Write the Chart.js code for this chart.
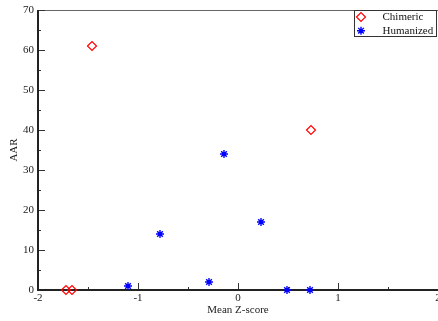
<!DOCTYPE html>
<html>
<head>
<meta charset="utf-8">
<script src="https://cdn.jsdelivr.net/npm/chart.js@4.4.1/dist/chart.umd.min.js"></script>
<style>
  html, body { margin: 0; padding: 0; background: #fff; overflow: hidden; }
  #wrap { width: 438px; height: 321px; position: relative; }
</style>
</head>
<body>
<div id="wrap"><canvas id="c"></canvas></div>
<script>
// Mean Z-score vs AAR for chimeric and humanized antibodies
const chimericZ = [-1.72, -1.66, -1.46, 0.73];
const chimericAAR = [0, 0, 61, 40];
const humanizedZ = [-1.10, -0.78, -0.29, -0.14, 0.23, 0.49, 0.72];
const humanizedAAR = [1, 14, 2, 34, 17, 0, 0];

const xTicks = [-2, -1, 0, 1, 2];
const yTicks = [0, 10, 20, 30, 40, 50, 60, 70];
const seriesNames = ['Chimeric', 'Humanized'];

const FONT = 'Liberation Serif';

function pts(xs, ys) { return xs.map((x, i) => ({ x: x, y: ys[i] })); }

// Frame, inward ticks (major + minor) and boxed legend
const framePlugin = {
  id: 'frame',
  beforeDatasetsDraw(chart) {
    const { ctx, chartArea: a, scales } = chart;
    const xs = scales.x, ys = scales.y;
    ctx.save();
    // top frame line
    ctx.strokeStyle = '#666';
    ctx.lineWidth = 1;
    ctx.beginPath();
    ctx.moveTo(a.left, a.top + 0.5); ctx.lineTo(a.right, a.top + 0.5);
    ctx.stroke();
    // ticks
    ctx.strokeStyle = '#333';
    ctx.lineWidth = 1;
    ctx.beginPath();
    for (let v = xs.min; v <= xs.max + 1e-9; v += 0.5) {
      const px = Math.round(xs.getPixelForValue(v)) + 0.5;
      const len = Math.abs(v - Math.round(v)) < 1e-9 ? 7 : 3;
      ctx.moveTo(px, a.bottom); ctx.lineTo(px, a.bottom - len);
    }
    for (let v = ys.min; v <= ys.max + 1e-9; v += 5) {
      const py = Math.round(ys.getPixelForValue(v)) + 0.5;
      const len = v % 10 === 0 ? 7 : 3;
      ctx.moveTo(a.left, py); ctx.lineTo(a.left + len, py);
    }
    ctx.stroke();
    // axes
    ctx.strokeStyle = '#222';
    ctx.lineWidth = 2;
    ctx.beginPath();
    ctx.moveTo(a.left, a.top); ctx.lineTo(a.left, a.bottom + 1);
    ctx.moveTo(a.left, a.bottom); ctx.lineTo(a.right, a.bottom);
    ctx.stroke();
    ctx.restore();
  },
  afterDraw(chart) {
    const { ctx } = chart;
    ctx.save();
    const bx = 354.5, by = 10.5, bw = 82, bh = 26;
    ctx.fillStyle = '#fff';
    ctx.fillRect(bx, by, bw, bh);
    ctx.strokeStyle = '#333';
    ctx.lineWidth = 1;
    ctx.strokeRect(bx, by, bw, bh);
    ctx.font = '11px "' + FONT + '"';
    ctx.textBaseline = 'middle';
    chart.data.datasets.forEach((ds, i) => {
      const cy = 17 + i * 13.7;
      ctx.lineWidth = ds.borderWidth;
      ctx.strokeStyle = ds.borderColor;
      ctx.fillStyle = ds.backgroundColor;
      Chart.helpers.drawPoint(ctx, { pointStyle: ds.pointStyle, radius: ds.pointRadius, borderWidth: ds.borderWidth, rotation: 0 }, 361, cy);
      ctx.fillStyle = '#111';
      ctx.fillText(seriesNames[i], 382.5, cy + 0.5);
    });
    ctx.restore();
  }
};

new Chart(document.getElementById('c'), {
  type: 'scatter',
  data: {
    datasets: [
      {
        label: seriesNames[0],
        data: pts(chimericZ, chimericAAR),
        pointStyle: 'rectRot',
        pointRadius: 4.5,
        borderColor: '#ff0000',
        backgroundColor: 'rgba(255,255,255,0)',
        borderWidth: 1.2,
        clip: false
      },
      {
        label: seriesNames[1],
        data: pts(humanizedZ, humanizedAAR),
        pointStyle: 'star',
        pointRadius: 4,
        borderColor: '#0000ff',
        backgroundColor: '#0000ff',
        borderWidth: 1.4,
        clip: false
      }
    ]
  },
  options: {
    responsive: true,
    maintainAspectRatio: false,
    animation: false,
    events: [],
    layout: { autoPadding: false, padding: { top: 10, right: 0, left: 0, bottom: 0 } },
    plugins: { legend: { display: false }, tooltip: { enabled: false } },
    scales: {
      x: {
        type: 'linear',
        min: -2, max: 2,
        afterBuildTicks: s => { s.ticks = xTicks.map(v => ({ value: v })); },
        afterFit: s => { s.height = 31; s.paddingLeft = 0; s.paddingRight = 0; },
        grid: { display: false, drawTicks: false },
        border: { display: false },
        ticks: { color: '#222', padding: 2, font: { family: FONT, size: 11 }, maxRotation: 0, autoSkip: false },
        title: { display: true, text: 'Mean Z-score', color: '#222', font: { family: FONT, size: 11 }, padding: { top: 0, bottom: 4 } }
      },
      y: {
        type: 'linear',
        min: 0, max: 70,
        afterBuildTicks: s => { s.ticks = yTicks.map(v => ({ value: v })); },
        afterFit: s => { s.width = 38; s.paddingTop = 0; s.paddingBottom = 0; },
        grid: { display: false, drawTicks: false },
        border: { display: false },
        ticks: { color: '#222', padding: 4, font: { family: FONT, size: 11 }, autoSkip: false },
        title: { display: true, text: 'AAR', color: '#222', font: { family: FONT, size: 11 }, padding: { top: 8, bottom: 0 } }
      }
    }
  },
  plugins: [framePlugin]
});
</script>
</body>
</html>
